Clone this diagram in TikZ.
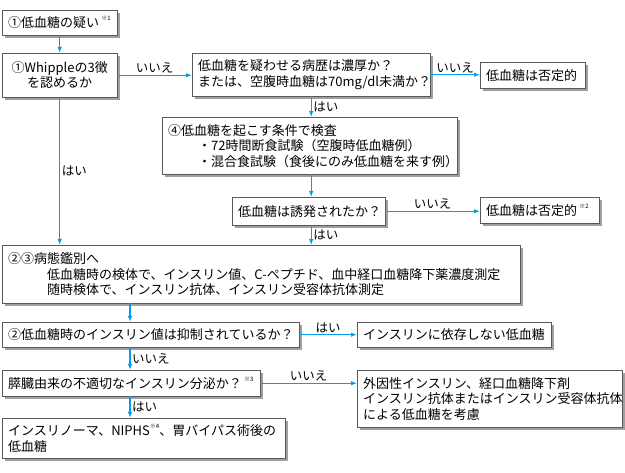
\documentclass[tikz,border=0pt]{standalone}
\usepackage{fontspec}
\setmainfont{Noto Sans CJK JP}
\usetikzlibrary{positioning, arrows.meta, shadows}
\usepackage{xcolor}
\definecolor{flowblue}{RGB}{0,160,233}
\newcommand{\kome}[1]{\raisebox{0.55em}{\fontsize{6}{6}\selectfont ※#1}}

\begin{document}
\begin{tikzpicture}[
        x=1pt, y=-1pt,
        box/.style={rectangle, draw=black!65, fill=white, anchor=north west, align=left,
          inner xsep=6pt, inner ysep=0pt, font=\fontsize{13}{15.5}\selectfont,
          drop shadow={shadow xshift=2.5pt, shadow yshift=-3pt, opacity=0.75}},
        lbl/.style={font=\fontsize{12.5}{14}\selectfont, inner sep=1.5pt, text=black},
        arrow/.style={-{Latex[length=6pt,width=4.5pt]}, line width=1.1pt, flowblue}
    ]
        \useasboundingbox (0,0) rectangle (625,473);

        % First checks
        \node[box, minimum width=115pt, minimum height=25pt, text width=103pt] (doubt) at (2,10) {\mbox{①低血糖の疑い\,\kome{1}}};
        \node[box, minimum width=115pt, minimum height=44pt, text width=103pt, align=center] (whipple) at (2,53) {①Whippleの3徴\\を認めるか};
        \node[box, minimum width=238pt, minimum height=43pt, text width=226pt] (history) at (192,53) {低血糖を疑わせる病歴は濃厚か？\\または、空腹時血糖は70mg/dl未満か？};
        \node[box, minimum width=105pt, minimum height=26pt, text width=93pt] (neg1) at (480,62) {低血糖は否定的};

        % Provocation tests
        \node[box, minimum width=295pt, minimum height=57pt, text width=283pt] (test) at (162,117) {④低血糖を起こす条件で検査\\\hspace*{2.3em}・72時間断食試験（空腹時低血糖例）\\\hspace*{2.3em}・混合食試験（食後にのみ低血糖を来す例）};
        \node[box, minimum width=153pt, minimum height=28pt, text width=141pt] (induced) at (232,197) {低血糖は誘発されたか？};
        \node[box, minimum width=119pt, minimum height=26pt, text width=107pt] (neg2) at (480,197) {\mbox{低血糖は否定的\,\kome{2}}};

        % Differential diagnosis
        \node[box, minimum width=518pt, minimum height=58pt, text width=506pt] (diff) at (2,245) {②③病態鑑別へ\\\hspace*{3em}低血糖時の検体で、インスリン値、C-ペプチド、血中経口血糖降下薬濃度測定\\\hspace*{3em}随時検体で、インスリン抗体、インスリン受容体抗体測定};
        \node[box, minimum width=297pt, minimum height=25pt, text width=285pt] (insulin) at (2,322) {②低血糖時のインスリン値は抑制されているか？};
        \node[box, minimum width=194pt, minimum height=25pt, text width=182pt] (indep) at (357,322) {インスリンに依存しない低血糖};
        \node[box, minimum width=258pt, minimum height=26pt, text width=246pt] (pancreas) at (2,370) {\mbox{膵臓由来の不適切なインスリン分泌か？\,\kome{3}}};
        \node[box, minimum width=265pt, minimum height=57pt, text width=253pt] (exo) at (357,370) {外因性インスリン、経口血糖降下剤\\インスリン抗体またはインスリン受容体抗体\\による低血糖を考慮};
        \node[box, minimum width=283pt, minimum height=40pt, text width=271pt] (insulinoma) at (2,418) {インスリノーマ、NIPHS\kome{4}、胃バイパス術後の\\低血糖};

        % Spine of the lower part
        \coordinate (spine) at (130,0);

        % Connections
        \draw[arrow] (doubt) -- (whipple);
        \draw[arrow] (whipple.east) -- node[lbl, above] (no1) {いいえ} (whipple.east -| history.west);
        \draw[arrow] (history.east) -- node[lbl, above] (no2) {いいえ} (history.east -| neg1.west);
        \draw[arrow] (history.south) -- node[lbl, right] (yes1) {はい} (history.south |- test.north);
        \draw[arrow] (history.south |- test.south) -- (history.south |- induced.north);
        \draw[arrow] (induced.east) -- node[lbl, above] (no3) {いいえ} (induced.east -| neg2.west);
        \draw[arrow] (history.south |- induced.south) -- node[lbl, right] (yes2) {はい} (history.south |- diff.north);
        \draw[arrow] (whipple.south) -- node[lbl, right] (yes0) {はい} (whipple.south |- diff.north);
        \draw[arrow] (spine |- diff.south) -- (spine |- insulin.north);
        \draw[arrow] (insulin.east) -- node[lbl, above] (yes3) {はい} (insulin.east -| indep.west);
        \draw[arrow] (spine |- insulin.south) -- node[lbl, right] (no4) {いいえ} (spine |- pancreas.north);
        \draw[arrow] (pancreas.east) -- node[lbl, above] (no5) {いいえ} (pancreas.east -| exo.west);
        \draw[arrow] (spine |- pancreas.south) -- node[lbl, right] (yes4) {はい} (spine |- insulinoma.north);
    \end{tikzpicture}
\end{document}
